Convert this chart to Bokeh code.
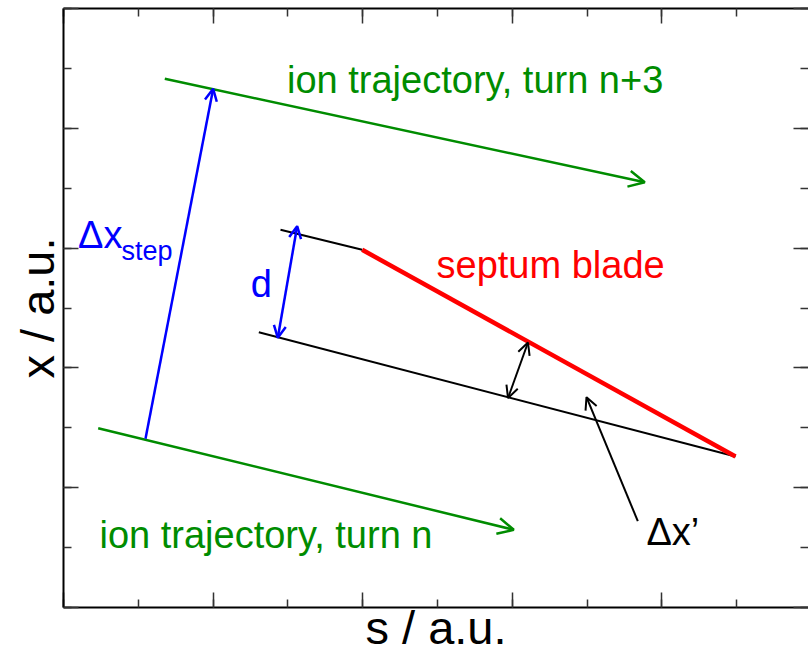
from bokeh.plotting import figure
from bokeh.models import (Range1d, LinearAxis, SingleIntervalTicker, Arrow, OpenHead,
                          ColumnDataSource, CustomJSTickFormatter)
from bokeh.core.properties import value
from bokeh.embed import file_html
from bokeh.resources import INLINE

FONT = "Liberation Sans"

# ---- data (s / a.u., x / a.u.) ----
traj_n3_s = [1.354, 7.771]
traj_n3_x = [8.826, 7.100]
traj_n_s = [0.464, 6.020]
traj_n_x = [2.993, 1.297]
guide_top_s = [2.901, 3.993]
guide_top_x = [6.306, 5.972]
septum_s = [3.993, 8.984]
septum_x = [5.972, 2.521]
guide_low_s = [2.611, 8.984]
guide_low_x = [4.596, 2.521]
step_s = [1.096, 2.001]
step_x = [2.816, 8.659]
d_s = [2.865, 3.124]
d_x = [4.503, 6.366]
angle_s = [5.943, 6.210]
angle_x = [3.497, 4.424]
dxp_s = [7.678, 6.992]
dxp_x = [1.441, 3.511]

label_text = ["ion trajectory, turn n+3", "ion trajectory, turn n", "septum blade",
              "d", "\u0394x", "step", "\u0394x\u2019"]
label_s = [2.988, 0.481, 4.987, 2.505, 0.194, 0.775, 7.794]
label_x = [8.600, 1.007, 5.514, 5.192, 6.015, 5.743, 1.052]
label_color = ["#008c00", "#008c00", "#ff0000", "#0000ff", "#0000ff", "#0000ff", "#000000"]
label_size = ["38px", "38px", "38px", "38px", "38px", "27px", "38px"]

x_title = "s / a.u."
y_title = "x / a.u."

GREEN = "#008c00"
BLUE = "#0000ff"
RED = "#ff0000"

p = figure(width=808, height=657, x_range=Range1d(0, 9.96), y_range=Range1d(0, 10),
           output_backend="svg", toolbar_location=None,
           x_axis_location=None, y_axis_location=None,
           min_border_left=63, min_border_top=8, min_border_bottom=50, min_border_right=0)
p.outline_line_color = None
p.xgrid.grid_line_color = None
p.ygrid.grid_line_color = None
p.background_fill_color = "white"


def make_axis(label=None, line=True, standoff=0):
    ax = LinearAxis(ticker=SingleIntervalTicker(interval=2, num_minor_ticks=2),
                    formatter=CustomJSTickFormatter(code="return ''"))
    ax.major_tick_in = 15
    ax.major_tick_out = 0
    ax.minor_tick_in = 8
    ax.minor_tick_out = 0
    ax.major_tick_line_color = "#333333"
    ax.minor_tick_line_color = "#333333"
    ax.major_tick_line_width = 1.5
    ax.minor_tick_line_width = 1.5
    ax.major_label_standoff = 0
    ax.axis_line_width = 2
    ax.axis_line_color = "black" if line else None
    if label:
        ax.axis_label = label
        ax.axis_label_text_font = FONT
        ax.axis_label_text_font_size = "47px"
        ax.axis_label_text_font_style = "normal"
        ax.axis_label_text_color = "black"
        ax.axis_label_standoff = standoff
    return ax


p.add_layout(make_axis(x_title, standoff=-7), "below")
p.add_layout(make_axis(y_title), "left")
p.add_layout(make_axis(), "above")
p.add_layout(make_axis(line=False), "right")

# guide lines and septum
p.line(guide_top_s, guide_top_x, line_color="black", line_width=2)
p.line(guide_low_s, guide_low_x, line_color="black", line_width=2)
p.line(septum_s, septum_x, line_color=RED, line_width=4.5)

# trajectories with arrow heads
for ss, xx in ((traj_n3_s, traj_n3_x), (traj_n_s, traj_n_x)):
    p.add_layout(Arrow(x_start=ss[0], y_start=xx[0], x_end=ss[1], y_end=xx[1],
                       line_color=GREEN, line_width=2.5,
                       end=OpenHead(size=16, line_color=GREEN, line_width=2.5)))

# step arrow
p.add_layout(Arrow(x_start=step_s[0], y_start=step_x[0], x_end=step_s[1], y_end=step_x[1],
                   line_color=BLUE, line_width=2.5,
                   end=OpenHead(size=12, line_color=BLUE, line_width=2.5)))
# d double arrow
p.add_layout(Arrow(x_start=d_s[0], y_start=d_x[0], x_end=d_s[1], y_end=d_x[1],
                   line_color=BLUE, line_width=2.5,
                   start=OpenHead(size=12, line_color=BLUE, line_width=2.5),
                   end=OpenHead(size=12, line_color=BLUE, line_width=2.5)))
# angle double arrow
p.add_layout(Arrow(x_start=angle_s[0], y_start=angle_x[0], x_end=angle_s[1], y_end=angle_x[1],
                   line_color="black", line_width=2,
                   start=OpenHead(size=12, line_color="black", line_width=2),
                   end=OpenHead(size=12, line_color="black", line_width=2)))
# delta x' pointer
p.add_layout(Arrow(x_start=dxp_s[0], y_start=dxp_x[0], x_end=dxp_s[1], y_end=dxp_x[1],
                   line_color="black", line_width=2,
                   end=OpenHead(size=12, line_color="black", line_width=2)))

src = ColumnDataSource(dict(text=label_text, s=label_s, x=label_x,
                            color=label_color, size=label_size))
p.text(x="s", y="x", text="text", source=src, text_color="color",
       text_font_size="size", text_font=value(FONT),
       text_align="left", text_baseline="alphabetic", y_offset=-12)

open("out.html", "w").write(file_html(p, INLINE))
